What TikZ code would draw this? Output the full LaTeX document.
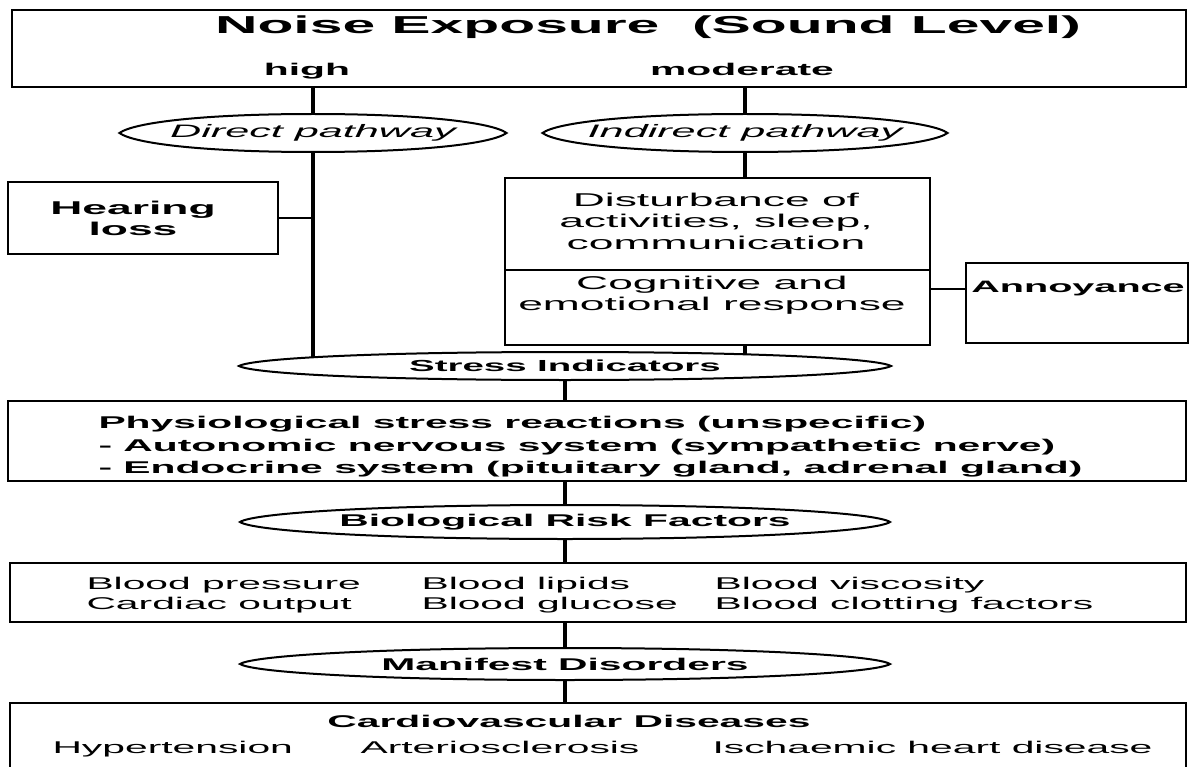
\documentclass[tikz,border=0pt]{standalone}
\usepackage{fontspec}
\setmainfont[FakeStretch=2.4]{Liberation Sans}
\usetikzlibrary{positioning,calc}

\pgfdeclarelayer{links}
\pgfdeclarelayer{bubbles}
\pgfsetlayers{links,bubbles,main}

\tikzset{
  box/.style={draw, line width=2.6pt, inner sep=0pt, outer sep=0pt, align=center},
  bubble/.style={inner sep=0pt, outer sep=0pt, align=center},
  link/.style={line width=3.6pt},
  side/.style={line width=2.4pt},
  heavy/.style={font=\fontsize{17}{20.5}\selectfont\bfseries},
  plain/.style={font=\fontsize{17}{20.5}\selectfont},
  roomy/.style={font=\fontsize{18.5}{21.5}\selectfont}
}

\begin{document}
\begin{tikzpicture}[x=1pt, y=-1pt, font=\fontsize{17}{20}\selectfont]
  \useasboundingbox (0,0) rectangle (1190,767);

  % exposure
  \node[box, minimum width=1174pt, minimum height=77pt] (noise) at (599,48.5) {};
  \node[anchor=base, font=\fontsize{24.5}{28}\selectfont\bfseries] (title) at (648,34) {Noise Exposure\ \ (Sound Level)};
  \node[heavy, anchor=base] (high) at (307,76) {high};
  \node[heavy, anchor=base] (moderate) at (742,76) {moderate};

  % pathways
  \node[bubble, minimum width=387pt, minimum height=38pt, font=\fontsize{18}{20}\selectfont\itshape] (direct) at (313,133) {Direct pathway};
  \node[bubble, minimum width=405pt, minimum height=38pt, font=\fontsize{18}{20}\selectfont\itshape] (indirect) at (745,133) {Indirect pathway};

  % effects
  \node[box, minimum width=270pt, minimum height=72pt] (hearing) at (143,218) {};
  \node[font=\fontsize{18.5}{21}\selectfont\bfseries, align=center] (hearingtxt) at (133,218) {Hearing\\loss};
  \node[box, minimum width=425pt, minimum height=92pt] (dist) at (717.5,224) {};
  \node[roomy, align=center] (disttxt) at (716,221) {Disturbance of\\activities, sleep,\\communication};
  \node[box, minimum width=425pt, minimum height=75pt, below=0pt of dist] (cogn) {};
  \node[roomy, align=center] (cogntxt) at (712,295) {Cognitive and\\emotional response};
  \node[box, minimum width=222pt, minimum height=80pt] (annoy) at (1077,303) {};
  \node[font=\fontsize{16.5}{20}\selectfont\bfseries] (annoytxt) at (1078,289) {Annoyance};

  % stress
  \node[bubble, font=\fontsize{16}{20}\selectfont\bfseries, minimum width=652pt, minimum height=28pt] (stress) at (565,366) {Stress Indicators};
  \node[box, minimum width=1178pt, minimum height=80pt] (physio) at (597,441) {};
  \node[anchor=west, align=left, font=\fontsize{17}{22.5}\selectfont\bfseries] (physiotxt) at (95,447) {Physiological stress reactions (unspecific)\\- Autonomic nervous system (sympathetic nerve)\\- Endocrine system (pituitary gland, adrenal gland)};

  % risk factors
  \node[bubble, heavy, minimum width=650pt, minimum height=34pt] (risk) at (565,522) {Biological Risk Factors};
  \node[box, minimum width=1176pt, minimum height=59pt] (blood) at (598,592.5) {};
  \node[plain, anchor=west, align=left] (bloodA) at (83,595) {Blood pressure\\Cardiac output};
  \node[plain, anchor=west, align=left] (bloodB) at (418,595) {Blood lipids\\Blood glucose};
  \node[plain, anchor=west, align=left] (bloodC) at (711,595) {Blood viscosity\\Blood clotting factors};

  % disorders
  \node[bubble, heavy, minimum width=650pt, minimum height=32pt] (manifest) at (565,664) {Manifest Disorders};
  \node[box, minimum width=1176pt, minimum height=100pt] (cvd) at (598,753) {};
  \node[heavy, anchor=base] (cvdtitle) at (569,727) {Cardiovascular Diseases};
  \node[plain, anchor=base west] (hyper) at (49,753) {Hypertension};
  \node[plain, anchor=base west] (arterio) at (357,753) {Arteriosclerosis};
  \node[plain, anchor=base west] (ischaemic) at (709,753) {Ischaemic heart disease};

  \begin{pgfonlayer}{bubbles}
    \foreach \b/\t in {direct/110, indirect/115, stress/190, risk/180, manifest/180}
      \draw[line width=2pt, fill=white] (\b.west)
        .. controls ($(\b.west)!0.55!(\b.north west)+(14pt,0)$) and ([xshift=-\t pt]\b.north) .. (\b.north)
        .. controls ([xshift=\t pt]\b.north) and ($(\b.east)!0.55!(\b.north east)+(-14pt,0)$) .. (\b.east)
        .. controls ($(\b.east)!0.55!(\b.south east)+(-14pt,0)$) and ([xshift=\t pt]\b.south) .. (\b.south)
        .. controls ([xshift=-\t pt]\b.south) and ($(\b.west)!0.55!(\b.south west)+(14pt,0)$) .. cycle;
  \end{pgfonlayer}

  \begin{pgfonlayer}{links}
    \draw[link] (direct.north |- noise.south) -- (direct.north);
    \draw[link] (indirect.north |- noise.south) -- (indirect.north);
    \draw[link] (direct.south) -- (direct.south |- stress.center);
    \draw[side] (hearing.east) -- (hearing.east -| direct.south);
    \draw[link] (indirect.south) -- (indirect.south |- dist.north);
    \draw[side] (cogn.east |- annoytxt) -- (annoy.west |- annoytxt);
    \draw[link] (indirect.south |- cogn.south) -- (indirect.south |- stress.center);
    \draw[link] (stress.south) -- (stress.south |- physio.north);
    \draw[link] (stress.south |- physio.south) -- (risk.north);
    \draw[link] (risk.south) -- (risk.south |- blood.north);
    \draw[link] (risk.south |- blood.south) -- (manifest.north);
    \draw[link] (manifest.south) -- (manifest.south |- cvd.north);
  \end{pgfonlayer}
\end{tikzpicture}
\end{document}
